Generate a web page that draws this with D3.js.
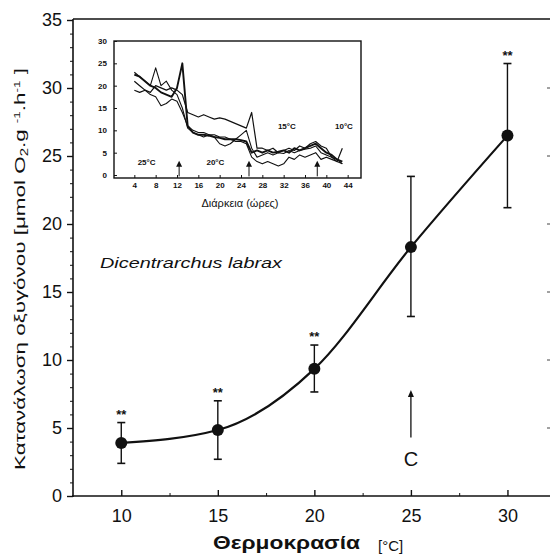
<!DOCTYPE html>
<html><head><meta charset="utf-8">
<script src="https://cdn.jsdelivr.net/npm/d3@7"></script>
<style>
body{margin:0;background:#fff;}
svg{display:block;font-family:"Liberation Sans",Arial,Helvetica,sans-serif;}
</style></head>
<body><svg id="c" width="550" height="558"></svg>
<script>
// Main chart data
const temps = [10, 15, 20, 25, 30];
const means = [3.9, 4.85, 9.35, 18.3, 26.5];
const upper = [5.4, 7.0, 11.1, 23.5, 31.8];
const lower = [2.4, 2.7, 7.65, 13.2, 21.2];
const signif = ["**", "**", "**", "", "**"];
const yTicks = [0, 5, 10, 15, 20, 25, 30, 35];
const xTicks = [10, 15, 20, 25, 30];

// Inset data (hours vs oxygen consumption, four fish)
const hours = d3.range(4, 44);
const fish1 = [22.5,22,21,20,19.5,18.5,18,17.5,19.5,25,11,9.5,9,9,8.8,8.5,8.3,8,8,8,7.8,7.5,5,5.5,5,5.5,5,5.2,5.5,5,6,5.5,6,6.5,7,6,5,4.5,3.5,3];
const fish2 = [21,20,19,18.5,20,19.5,19,19.5,19,18,14,13.5,13,13.5,13,12.5,12.8,12.5,12,11.5,11,10.5,14,6,6,5.5,6,5,5.5,6,5.5,6.5,6,7,7.5,6.5,6,4,3,6];
const fish3 = [23,22,21,20,24,20,21,19,18,15,10.5,9.5,9,8.5,9,8.5,7,6.5,7,8,9,10,6,4,4.5,5,4.5,5,4.8,5.5,5,5.5,5.8,6,6.5,5,4.5,4,3.5,2.5];
const fish4 = [19,18.5,19,18,17.5,15.5,16,17,16.5,14,11,10,9.5,9.5,9,9,8.5,8.5,8,7.5,7.5,7,4,3,2.5,3,2.5,2,2.5,4,3.5,4.5,4,4.5,5,3.5,4,3.5,3,2.5];
const insetYTicks = [0, 5, 10, 15, 20, 25, 30];
const insetXTicks = [4, 8, 12, 16, 20, 24, 28, 32, 36, 40, 44];
const insetPhases = [{t:"25°C", h:6.3, v:2.3}, {t:"20°C", h:19.2, v:2.3}, {t:"15°C", h:32.6, v:10.2}, {t:"10°C", h:43.3, v:10.2}];
const insetArrows = [12.4, 25.5, 38.3];

const svg = d3.select("#c");
const ink = "#111";

const x = d3.scaleLinear().domain([7.5, 32.1]).range([73, 548]);
const y = d3.scaleLinear().domain([0, 35]).range([496, 20]);

// frame
svg.append("line").attr("x1",73).attr("x2",550).attr("y1",19).attr("y2",19).attr("stroke",ink).attr("stroke-width",1.6);
svg.append("g").selectAll("line").data(d3.range(5,35,5)).join("line")
  .attr("x1",547).attr("x2",550).attr("y1",d=>y(d)).attr("y2",d=>y(d)).attr("stroke","#444").attr("stroke-width",1);

// Y axis
const yAxis = svg.append("g").attr("transform","translate(73,0)")
  .call(d3.axisLeft(y).tickValues(yTicks).tickSize(6).tickSizeOuter(0).tickPadding(5));
yAxis.select(".domain").attr("stroke",ink).attr("stroke-width",1.6).attr("d","M0,19V497");
yAxis.selectAll("text").attr("font-size",18).attr("fill",ink);
yAxis.selectAll("line").attr("stroke",ink).attr("stroke-width",1.4);
svg.append("g").attr("transform","translate(73,0)")
  .call(d3.axisLeft(y).tickValues(d3.range(0,36).filter(v=>v%5!==0)).tickSize(3).tickFormat(""))
  .call(g=>g.select(".domain").remove())
  .selectAll("line").attr("stroke",ink);

// X axis
const xAxis = svg.append("g").attr("transform","translate(0,496)")
  .call(d3.axisBottom(x).tickValues(xTicks).tickSize(-6).tickSizeOuter(0).tickPadding(13));
xAxis.select(".domain").attr("stroke",ink).attr("stroke-width",1.6).attr("d","M72,0H550");
xAxis.selectAll("text").attr("font-size",18).attr("fill",ink);
xAxis.selectAll("line").attr("stroke",ink).attr("stroke-width",1.4);
svg.append("g").attr("transform","translate(0,496)")
  .call(d3.axisBottom(x).tickValues([12.5,17.5,22.5,27.5]).tickSize(-3).tickFormat(""))
  .call(g=>g.select(".domain").remove())
  .selectAll("line").attr("stroke",ink);

// axis titles
svg.append("text").attr("x",213).attr("y",549).attr("font-size",19).attr("font-weight","bold")
  .attr("fill",ink).attr("textLength",147).attr("lengthAdjust","spacingAndGlyphs").text("Θερμοκρασία");
svg.append("text").attr("x",378).attr("y",551).attr("font-size",15).attr("fill",ink).text("[°C]");

const yl = svg.append("text").attr("transform","translate(25,470) rotate(-90)")
  .attr("font-size",15).attr("fill",ink).attr("textLength",402).attr("lengthAdjust","spacingAndGlyphs");
yl.append("tspan").text("Κατανάλωση οξυγόνου  [μmol O");
yl.append("tspan").attr("font-size",10).attr("dy",3).text("2");
yl.append("tspan").attr("dy",-3).text(".g ");
yl.append("tspan").attr("font-size",9).attr("dy",-5).text("-1");
yl.append("tspan").attr("dy",5).text(".h");
yl.append("tspan").attr("font-size",9).attr("dy",-5).text("-1");
yl.append("tspan").attr("dy",5).text(" ]");

// species label
svg.append("text").attr("x",100).attr("y",268).attr("font-size",15).attr("font-style","italic")
  .attr("fill",ink).attr("textLength",182).attr("lengthAdjust","spacingAndGlyphs").text("Dicentrarchus labrax");

// fitted curve
const pts = temps.map((t,i)=>[t,means[i]]);
svg.append("path").datum(pts).attr("fill","none").attr("stroke",ink).attr("stroke-width",2.2)
  .attr("d", d3.line().x(d=>x(d[0])).y(d=>y(d[1])).curve(d3.curveMonotoneX));

// error bars
const eb = svg.append("g").selectAll("g").data(temps).join("g");
eb.append("line").attr("x1",d=>x(d)).attr("x2",d=>x(d)).attr("y1",(d,i)=>y(upper[i])).attr("y2",(d,i)=>y(lower[i]))
  .attr("stroke",ink).attr("stroke-width",1.4);
eb.append("line").attr("x1",d=>x(d)-4).attr("x2",d=>x(d)+4).attr("y1",(d,i)=>y(upper[i])).attr("y2",(d,i)=>y(upper[i]))
  .attr("stroke",ink).attr("stroke-width",1.6);
eb.append("line").attr("x1",d=>x(d)-4).attr("x2",d=>x(d)+4).attr("y1",(d,i)=>y(lower[i])).attr("y2",(d,i)=>y(lower[i]))
  .attr("stroke",ink).attr("stroke-width",1.6);
eb.append("circle").attr("cx",d=>x(d)).attr("cy",(d,i)=>y(means[i])).attr("r",6).attr("fill",ink);
eb.append("text").attr("x",d=>x(d)).attr("y",(d,i)=>y(upper[i])-4).attr("text-anchor","middle")
  .attr("font-size",13).attr("font-weight","bold").attr("fill",ink).text((d,i)=>signif[i]);

// C arrow
svg.append("line").attr("x1",x(25)).attr("x2",x(25)).attr("y1",y(4.3)).attr("y2",y(7.4)).attr("stroke",ink).attr("stroke-width",1.3);
svg.append("path").attr("d",`M${x(25)},${y(7.8)} l-3,7 h6 z`).attr("fill",ink);
svg.append("text").attr("x",x(25)).attr("y",y(2.2)).attr("text-anchor","middle").attr("font-size",20).attr("fill",ink).text("C");

// ---------- Inset ----------
const ix = d3.scaleLinear().domain([0, 46.5]).range([113, 361]);
const iy = d3.scaleLinear().domain([-0.67, 30]).range([178, 41]);
const ins = svg.append("g");
ins.append("rect").attr("x",114).attr("y",41).attr("width",247).attr("height",137)
  .attr("fill","#fff").attr("stroke",ink).attr("stroke-width",1.4);
const iya = ins.append("g").attr("transform","translate(114,0)")
  .call(d3.axisLeft(iy).tickValues(insetYTicks).tickSize(-3).tickPadding(7));
iya.select(".domain").remove();
iya.selectAll("text").attr("font-size",8).attr("font-weight","bold").attr("fill",ink);
iya.selectAll("line").attr("stroke",ink);
const ixa = ins.append("g").attr("transform","translate(0,178)")
  .call(d3.axisBottom(ix).tickValues(insetXTicks).tickSize(-3).tickPadding(4));
ixa.select(".domain").remove();
ixa.selectAll("text").attr("font-size",8).attr("font-weight","bold").attr("fill",ink);
ixa.selectAll("line").attr("stroke",ink);
ins.append("text").attr("x",240).attr("y",207).attr("text-anchor","middle").attr("font-size",11).attr("fill",ink).text("Διάρκεια (ώρες)");

const iline = d3.line().x((d,i)=>ix(hours[i])).y(d=>iy(d));
[[fish4,1.1],[fish3,1.1],[fish2,1.2],[fish1,1.9]].forEach(([s,w])=>{
  ins.append("path").datum(s).attr("fill","none").attr("stroke",ink).attr("stroke-width",w).attr("stroke-linejoin","round").attr("d",iline);
});
ins.selectAll("text.ph").data(insetPhases).join("text").attr("class","ph")
  .attr("x",d=>ix(d.h)).attr("y",d=>iy(d.v)).attr("text-anchor","middle").attr("font-size",8).attr("font-weight","bold").attr("fill",ink).text(d=>d.t);
insetArrows.forEach(h=>{
  ins.append("line").attr("x1",ix(h)).attr("x2",ix(h)).attr("y1",iy(-0.3)).attr("y2",iy(2)).attr("stroke",ink).attr("stroke-width",1);
  ins.append("path").attr("d",`M${ix(h)},${iy(3.2)} l-3,6 h6 z`).attr("fill",ink);
});
</script></body></html>
